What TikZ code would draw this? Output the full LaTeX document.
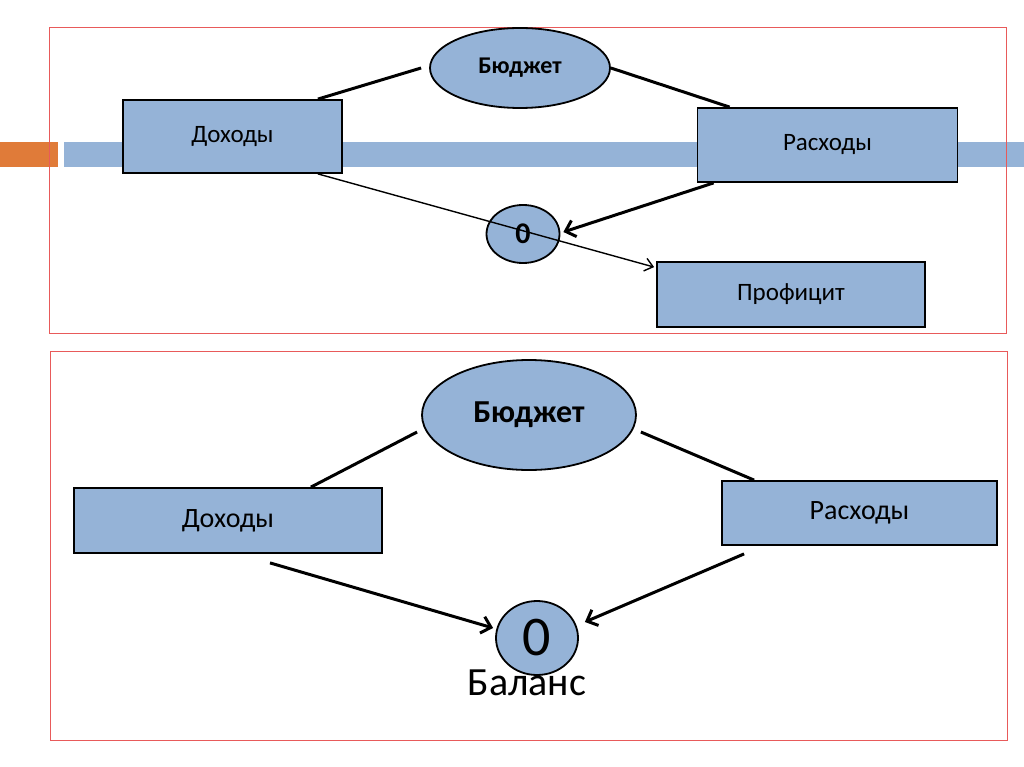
\documentclass[tikz,border=0pt]{standalone}
\usepackage{fontspec}
\setmainfont{Carlito}
\usetikzlibrary{arrows.meta, shapes.geometric, positioning}
\definecolor{boxblue}{RGB}{149,179,215}
\definecolor{barorange}{RGB}{224,123,57}
\definecolor{framered}{RGB}{232,90,90}

\begin{document}
\begin{tikzpicture}[x=1pt, y=-1pt,
    box/.style={rectangle, draw, line width=1.8pt, fill=boxblue, inner sep=0pt},
    oval/.style={ellipse, draw, line width=1.8pt, fill=boxblue, inner sep=0pt},
    link/.style={line width=3pt},
    flow/.style={-{Straight Barb[length=9pt,width=17pt]}, line width=3pt},
    thinflow/.style={-{Straight Barb[length=8pt,width=13pt]}, line width=1.4pt},
    frame/.style={draw=framered, line width=1pt}]

    \useasboundingbox (0,0) rectangle (1024,767);

    % Bars
    \fill[barorange] (0,142) rectangle (58,167);
    \fill[boxblue] (64,142) rectangle (1024,167);

    % Frames
    \draw[frame] (49,28) rectangle (1006,333);
    \draw[frame] (50,351) rectangle (1007,740);

    % Top: surplus
    \node[oval, minimum width=180, minimum height=80, font=\fontsize{24}{28}\selectfont\bfseries] (bud1) at (520,68) {Бюджет};
    \node[box, minimum width=219, minimum height=73, font=\fontsize{25}{30}\selectfont] (inc1) at (232.5,136.5) {\raisebox{-3pt}{Доходы}};
    \node[box, minimum width=260, minimum height=74, font=\fontsize{25}{30}\selectfont] (exp1) at (827.5,145) {\raisebox{-3pt}{Расходы}};
    \node[oval, minimum width=73, minimum height=58, font=\fontsize{30}{34}\selectfont\bfseries] (zero1) at (523,234) {\raisebox{-3pt}{0}};
    \node[box, minimum width=268, minimum height=65, font=\fontsize{25}{30}\selectfont] (prof1) at (791,294.5) {\raisebox{-2pt}{Профицит}};

    \draw[link] ([xshift=-25pt]inc1.north east) -- ([xshift=-8pt]bud1.west);
    \draw[link] (bud1.east) -- ([xshift=33pt]exp1.north west);
    \draw[flow] ([xshift=17pt]exp1.south west) -- ([shift={(3pt,2pt)}]zero1.east);
    \draw[thinflow] ([xshift=-25pt]inc1.south east) -- ([shift={(-2pt,-6pt)}]prof1.north west);

    % Bottom: balance
    \node[oval, minimum width=214, minimum height=110, font=\fontsize{32}{36}\selectfont\bfseries] (bud2) at (529,415) {Бюджет};
    \node[box, minimum width=308, minimum height=65, font=\fontsize{28}{32}\selectfont] (inc2) at (228,520.5) {\raisebox{-2pt}{Доходы}};
    \node[box, minimum width=275, minimum height=64, font=\fontsize{28}{32}\selectfont] (exp2) at (859.5,513) {\raisebox{-2pt}{Расходы}};
    \node[oval, minimum width=82, minimum height=74, font=\fontsize{56}{60}\selectfont] (zero2) at (537,638) {0};
    \node[font=\fontsize{40}{46}\selectfont, inner sep=0pt] (bal) at (527,683) {Баланс};

    \draw[link] ([xshift=-72pt]inc2.north east) -- ([shift={(-4pt,-17pt)}]bud2.west);
    \draw[link] ([shift={(4pt,-17pt)}]bud2.east) -- ([xshift=33pt]exp2.north west);
    \draw[flow] ([shift={(42pt,-9pt)}]inc2.south) -- ([shift={(-2pt,10pt)}]zero2.west);
    \draw[flow] ([shift={(23pt,-8pt)}]exp2.south west) -- ([shift={(6pt,16pt)}]zero2.east);

\end{tikzpicture}
\end{document}
